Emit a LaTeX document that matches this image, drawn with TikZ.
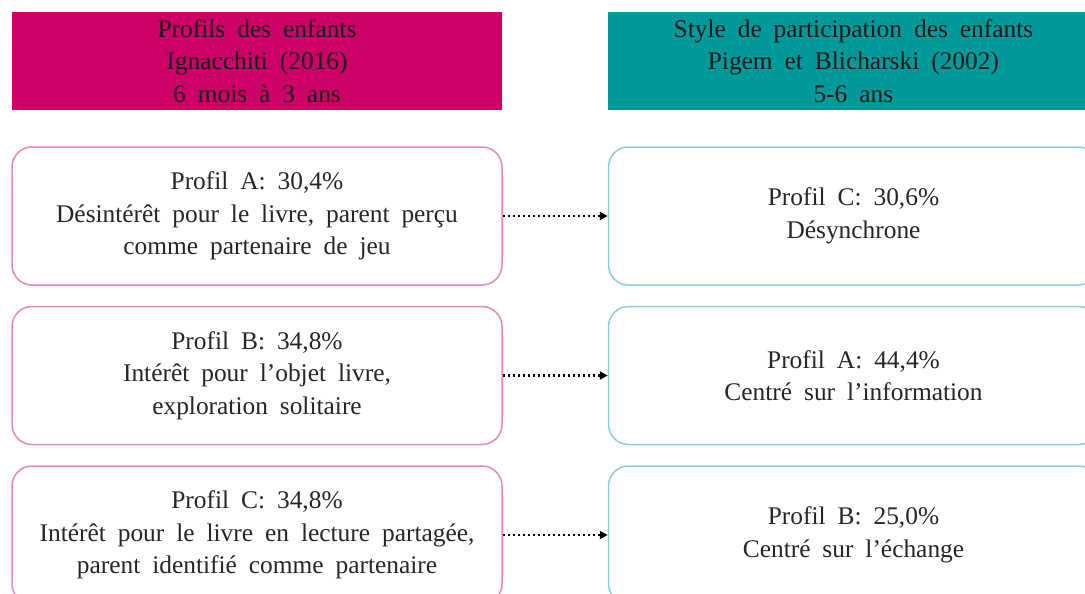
\documentclass[tikz,border=0pt]{standalone}
\usepackage{fontspec}
\setmainfont{Liberation Serif}
\usepackage{xcolor}
\usetikzlibrary{arrows.meta, positioning}
\definecolor{magentaP}{HTML}{CC0066}
\definecolor{tealP}{HTML}{009999}
\definecolor{roseBord}{HTML}{E589B5}
\definecolor{tealBord}{HTML}{8AD0D0}
\newcommand{\textefig}{\fontsize{25.4}{32.5}\selectfont\spaceskip=0.47em plus 0.1em}

\begin{document}
\begin{tikzpicture}[
    x=1pt, y=-1pt,
    every node/.style={font=\textefig, align=center, inner sep=0pt},
    header/.style={minimum width=490pt, minimum height=98pt, text=black!90},
    profilbox/.style={draw, rounded corners=20pt, line width=1.5pt, fill=white,
                      minimum width=490pt, minimum height=138pt, text=black!85},
    lien/.style={line width=2.2pt, dash pattern=on 2.2pt off 2.8pt,
                 -{Triangle[length=8pt, width=8pt]}}
]
\useasboundingbox (0,0) rectangle (1085,594);
\clip (0,0) rectangle (1085,594);

% colonne gauche : Ignacchiti
\node[header, fill=magentaP] (hG) at (257,61)
    {Profils des enfants\\Ignacchiti (2016)\\6 mois à 3 ans};
\node[profilbox, draw=roseBord] (gA) at (257,216)
    {Profil A: 30,4\%\\Désintérêt pour le livre, parent perçu\\comme partenaire de jeu};
\node[profilbox, draw=roseBord, below=20pt of gA] (gB)
    {Profil B: 34,8\%\\Intérêt pour l'objet livre,\\exploration solitaire};
\node[profilbox, draw=roseBord, below=20pt of gB] (gC)
    {Profil C: 34,8\%\\Intérêt pour le livre en lecture partagée,\\parent identifié comme partenaire};

% colonne droite : Pigem et Blicharski
\node[header, fill=tealP, right=106pt of hG] (hD)
    {Style de participation des enfants\\Pigem et Blicharski (2002)\\5-6 ans};
\node[profilbox, draw=tealBord, right=105pt of gA] (dC)
    {Profil C: 30,6\%\\Désynchrone};
\node[profilbox, draw=tealBord, right=105pt of gB] (dA)
    {Profil A: 44,4\%\\Centré sur l'information};
\node[profilbox, draw=tealBord, right=105pt of gC] (dB)
    {Profil B: 25,0\%\\Centré sur l'échange};

% correspondances
\draw[lien] (gA) -- (dC);
\draw[lien] (gB) -- (dA);
\draw[lien] (gC) -- (dB);

\end{tikzpicture}
\end{document}
